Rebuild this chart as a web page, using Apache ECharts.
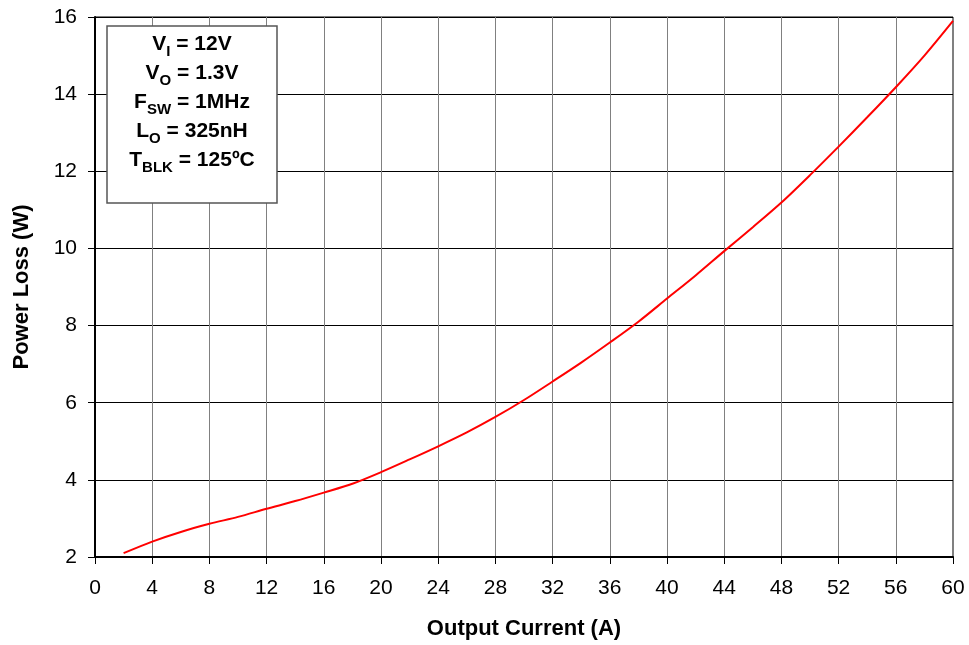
<!DOCTYPE html>
<html><head><meta charset="utf-8">
<script src="https://cdn.jsdelivr.net/npm/echarts@6/dist/echarts.min.js"></script>
<style>html,body{margin:0;padding:0;background:#fff}#c{width:969px;height:645px}</style>
</head><body><div id="c"></div>
<script>
const current = [2,4,6,8,10,12,14,16,18,20,22,24,26,28,30,32,34,36,38,40,42,44,46,48,50,52,54,56,58,60];
const powerLoss = [2.1,2.4,2.65,2.86,3.04,3.25,3.45,3.67,3.9,4.2,4.53,4.87,5.23,5.63,6.07,6.55,7.04,7.56,8.1,8.7,9.3,9.93,10.55,11.19,11.9,12.64,13.4,14.18,15.0,15.9];
const xTicks = {min:0, max:60, step:4};
const yTicks = {min:2, max:16, step:2};
const xName = 'Output Current (A)';
const yName = 'Power Loss (W)';
const FONT = '"Liberation Sans", Arial, sans-serif';

const chart = echarts.init(document.getElementById('c'));
const main = {fontSize:21, fontWeight:'bold', fontFamily:FONT, color:'#000', lineHeight:29, align:'center'};
const sub = {fontSize:15, fontWeight:'bold', fontFamily:FONT, color:'#000', lineHeight:22, verticalAlign:'bottom', align:'center'};
chart.setOption({
  animation:false,
  grid:{left:95,right:16,top:17,bottom:88,show:true,borderColor:'#000',borderWidth:1},
  xAxis:{type:'value',min:xTicks.min,max:xTicks.max,interval:xTicks.step,
    name:xName,nameLocation:'middle',nameGap:61,
    nameTextStyle:{fontSize:22,fontWeight:'bold',fontFamily:FONT,color:'#000'},
    axisLine:{lineStyle:{color:'#000',width:2}},
    axisTick:{show:true,length:7,lineStyle:{color:'#000'}},
    axisLabel:{fontSize:21,fontFamily:FONT,color:'#000',margin:21},
    splitLine:{show:true,lineStyle:{color:'#808080',width:1}}},
  yAxis:{type:'value',min:yTicks.min,max:yTicks.max,interval:yTicks.step,
    name:yName,nameLocation:'middle',nameGap:62,
    nameTextStyle:{fontSize:22,fontWeight:'bold',fontFamily:FONT,color:'#000'},
    axisLine:{show:true,lineStyle:{color:'#000',width:2}},
    axisTick:{show:true,length:7,lineStyle:{color:'#000'}},
    axisLabel:{fontSize:21,fontFamily:FONT,color:'#000',margin:18},
    splitLine:{show:true,lineStyle:{color:'#000',width:1}}},
  series:[{type:'line',data:current.map((x,i)=>[x,powerLoss[i]]),showSymbol:false,smooth:0.3,
    lineStyle:{color:'#ff0000',width:2}}],
  graphic:[
    {type:'rect',x:107,y:26,shape:{width:170,height:177},style:{fill:'#fff',stroke:'#555',lineWidth:1.5},z:10},
    {type:'text',x:192,y:30,z:11,
     style:{align:'center',verticalAlign:'top',
       text:'{m|V}{s|I}{m| = 12V}\n{m|V}{s|O}{m| = 1.3V}\n{m|F}{s|SW}{m| = 1MHz}\n{m|L}{s|O}{m| = 325nH}\n{m|T}{s|BLK}{m| = 125ºC}',
       rich:{m:main,s:sub}}}
  ]
});
</script></body></html>
